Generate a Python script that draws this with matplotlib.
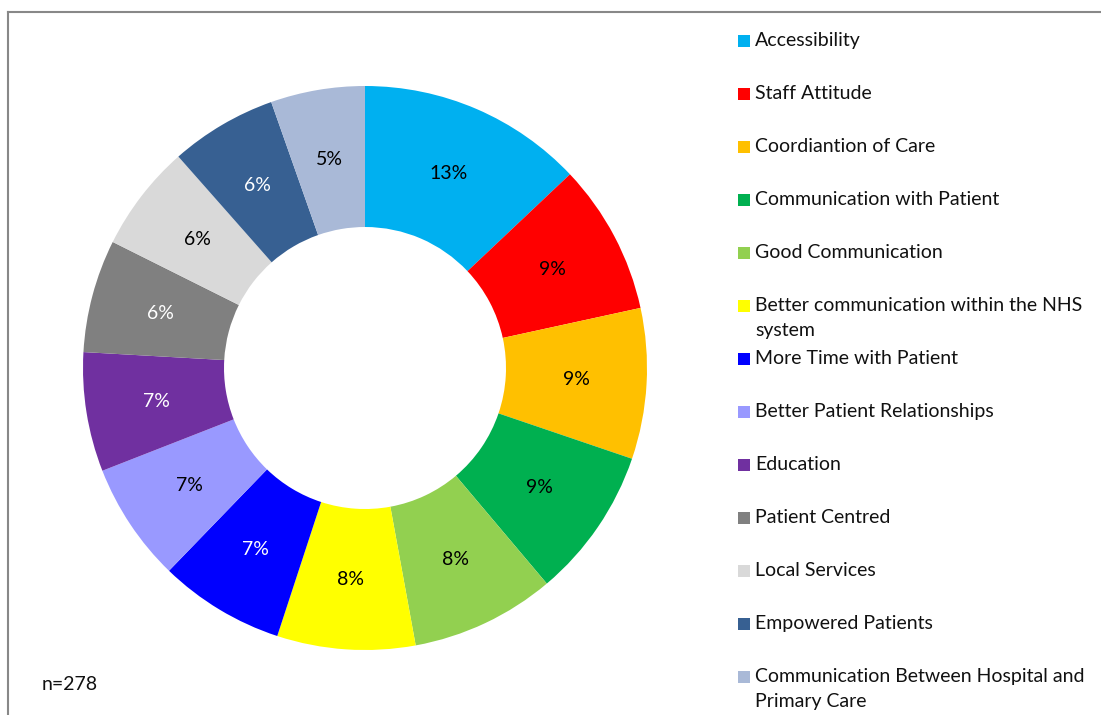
import matplotlib
matplotlib.use("Agg")
import matplotlib.pyplot as plt
from matplotlib.patches import Rectangle
from matplotlib.lines import Line2D

plt.rcParams['font.family'] = ['Lato', 'DejaVu Sans']

categories = [
    "Accessibility",
    "Staff Attitude",
    "Coordiantion of Care",
    "Communication with Patient",
    "Good Communication",
    "Better communication within the NHS\nsystem",
    "More Time with Patient",
    "Better Patient Relationships",
    "Education",
    "Patient Centred",
    "Local Services",
    "Empowered Patients",
    "Communication Between Hospital and\nPrimary Care",
]
counts = [36, 24, 24, 24, 23, 22, 20, 19, 19, 18, 17, 17, 15]
colors = ["#00B0F0", "#FF0000", "#FFC000", "#00B050", "#92D050", "#FFFF00",
          "#0000FF", "#9999FF", "#7030A0", "#808080", "#D9D9D9", "#376092",
          "#A9B9D7"]
label_colors = ["black", "black", "black", "black", "black", "black",
                "white", "black", "white", "white", "black", "white", "black"]
n_total = sum(counts)

W, H = 1101, 715
fig = plt.figure(figsize=(W / 100, H / 100), dpi=100)
ax = fig.add_axes([0, 0, 1, 1])

outer_r = 282
wedges, texts, autotexts = ax.pie(
    counts,
    colors=colors,
    startangle=90,
    counterclock=False,
    center=(365, H - 368),
    radius=outer_r,
    wedgeprops=dict(width=141, linewidth=0),
    autopct=lambda p: f"{p:.0f}%",
    pctdistance=0.75,
    textprops=dict(fontsize=14),
    frame=True,
)
for t, c in zip(autotexts, label_colors):
    t.set_color(c)

ax.set_xlim(0, W)
ax.set_ylim(0, H)
ax.set_aspect('equal')
ax.axis('off')

# legend drawn entry by entry in pixel layout
to_fig = lambda x, y: (x / W, 1 - y / H)
y0, step = 41, 53
for i, (lab, col) in enumerate(zip(categories, colors)):
    yc = y0 + i * step
    fx, fy = to_fig(738, yc + 6)
    fig.patches.append(Rectangle((fx, fy), 12 / W, 12 / H, transform=fig.transFigure,
                                 facecolor=col, edgecolor='none'))
    tx, ty = to_fig(755, yc - 9)
    fig.text(tx, ty, lab, fontsize=14, va='top', ha='left', color='#111111',
             linespacing=1.6)

nx, ny = to_fig(42, 685)
fig.text(nx, ny, f"n={n_total}", fontsize=14, va='center', ha='left', color='#111111')

# chart frame
fig.add_artist(Line2D([8 / W, 1], [1 - 12 / H, 1 - 12 / H], transform=fig.transFigure,
                      color='#888888', linewidth=1.5))
fig.add_artist(Line2D([8 / W, 8 / W], [1 - 12 / H, 0], transform=fig.transFigure,
                      color='#888888', linewidth=1.5))

fig.savefig("out.png", dpi=100, facecolor='white')
